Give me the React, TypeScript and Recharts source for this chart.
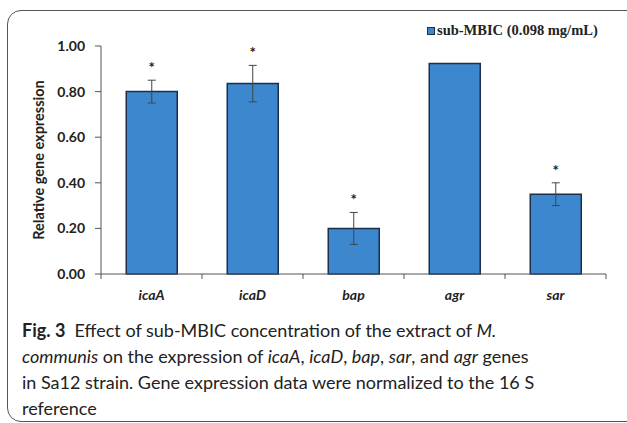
import { BarChart, Bar, XAxis, YAxis, ErrorBar, LabelList, Legend } from 'recharts';

const GENES = ['icaA', 'icaD', 'bap', 'agr', 'sar'];
const EXPRESSION = [0.8, 0.835, 0.2, 0.923, 0.35];
const ERRORS: (number | null)[] = [0.05, 0.08, 0.07, null, 0.05];
const SIGNIFICANT = ['*', '*', '*', '', '*'];
const Y_TICKS = [0, 0.2, 0.4, 0.6, 0.8, 1.0];
const SERIES_NAME = 'sub-MBIC (0.098 mg/mL)';

const BAR_FILL = '#3C87CE';
const BAR_STROKE = '#1C2F4A';
const AXIS = '#555';
const TEXT = '#222';

const data = GENES.map((gene, i) => ({
  gene,
  value: EXPRESSION[i],
  err: ERRORS[i],
  sig: SIGNIFICANT[i],
}));

// excel-style x axis: tick marks between categories, labels centred
function GeneTick({ x, y, payload }: any) {
  const half = payload.offset ?? 0;
  const axisY = y - 6;
  const isLast = GENES.indexOf(payload.value) === GENES.length - 1;
  return (
    <g>
      <line x1={x - half} y1={axisY} x2={x - half} y2={axisY + 5} stroke={AXIS} />
      {isLast && <line x1={x + half} y1={axisY} x2={x + half} y2={axisY + 5} stroke={AXIS} />}
      <text
        x={x}
        y={axisY + 26}
        textAnchor="middle"
        fill={TEXT}
        style={{ fontFamily: 'Lato', fontSize: 14, fontWeight: 700, fontStyle: 'italic' }}
      >
        {payload.value}
      </text>
    </g>
  );
}

// asterisk sits above the error bar
function StarLabel({ x, y, width, height, value, index }: any) {
  if (!value) return null;
  const v = EXPRESSION[index];
  const perUnit = height / v;
  const top = y - (ERRORS[index] ?? 0) * perUnit;
  return (
    <text
      x={x + width / 2}
      y={top - 7}
      textAnchor="middle"
      fill={TEXT}
      style={{ fontFamily: 'Lato', fontSize: 15, fontWeight: 700 }}
    >
      {value}
    </text>
  );
}

function LegendBox() {
  return (
    <div style={{ display: 'flex', alignItems: 'center', whiteSpace: 'nowrap' }}>
      <span
        style={{
          display: 'inline-block',
          width: 6,
          height: 6,
          background: BAR_FILL,
          border: `1px solid ${BAR_STROKE}`,
          marginRight: 2,
        }}
      />
      <span
        style={{
          fontFamily: '"Liberation Serif", serif',
          fontWeight: 700,
          fontSize: 14.5,
          color: TEXT,
        }}
      >
        {SERIES_NAME}
      </span>
    </div>
  );
}

export default function App() {
  return (
    <div
      style={{
        position: 'fixed',
        left: 0,
        top: 0,
        width: 627,
        height: 423,
        overflow: 'hidden',
        background: '#fff',
      }}
    >
      <div
        style={{
          position: 'absolute',
          left: 7,
          top: 10,
          width: 700,
          height: 412,
          boxSizing: 'border-box',
          border: '1.5px solid #555',
          borderRadius: 14,
        }}
      />
      <div style={{ position: 'absolute', left: 0, top: 0 }}>
        <BarChart
          width={627}
          height={310}
          data={data}
          margin={{ top: 46, right: 21, bottom: 6, left: 0 }}
          barCategoryGap="25%"
        >
          <XAxis
            dataKey="gene"
            height={30}
            stroke={AXIS}
            tickLine={false}
            tickSize={6}
            tickMargin={0}
            tick={<GeneTick />}
            interval={0}
          />
          <YAxis
            width={101}
            domain={[0, 1]}
            ticks={Y_TICKS}
            stroke={AXIS}
            tickSize={6}
            tickMargin={10}
            tickFormatter={(v: number) => v.toFixed(2)}
            tick={{ fill: TEXT, fontFamily: 'Lato', fontSize: 14, fontWeight: 700 }}
            label={{
              value: 'Relative gene expression',
              angle: -90,
              position: 'insideLeft',
              offset: 39,
              fill: TEXT,
              style: { textAnchor: 'middle', fontFamily: 'Lato', fontSize: 14.5, fontWeight: 700 },
            }}
          />
          <Legend
            layout="horizontal"
            verticalAlign="middle"
            align="center"
            wrapperStyle={{ top: 22, left: 427, width: 'auto' }}
            content={<LegendBox />}
          />
          <Bar
            dataKey="value"
            name={SERIES_NAME}
            fill={BAR_FILL}
            stroke={BAR_STROKE}
            strokeWidth={1.5}
            isAnimationActive={false}
          >
            <ErrorBar dataKey="err" width={4} stroke="#444" strokeWidth={1} direction="y" />
            <LabelList dataKey="sig" content={<StarLabel />} />
          </Bar>
        </BarChart>
      </div>
      <div
        style={{
          position: 'absolute',
          left: 22,
          top: 317,
          width: 600,
          fontFamily: 'Lato',
          fontSize: 18,
          lineHeight: '26px',
          color: TEXT,
          whiteSpace: 'nowrap',
        }}
      >
        <b>Fig. 3</b>&nbsp; Effect of sub-MBIC concentration of the extract of <i>M.</i>
        <br />
        <i>communis</i> on the expression of <i>icaA</i>, <i>icaD</i>, <i>bap</i>, <i>sar</i>, and <i>agr</i> genes
        <br />
        in Sa12 strain. Gene expression data were normalized to the 16 S
        <br />
        reference
      </div>
    </div>
  );
}
